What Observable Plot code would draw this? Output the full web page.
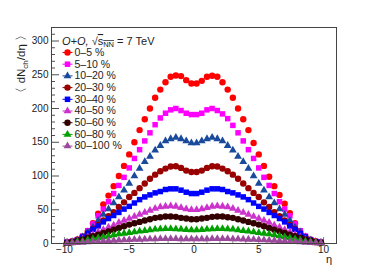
<!DOCTYPE html>
<html><head><meta charset="utf-8">
<script src="https://cdn.jsdelivr.net/npm/d3@7"></script>
<script src="https://cdn.jsdelivr.net/npm/@observablehq/plot@0.6"></script>
<style>body{margin:0;background:#fff;} svg{display:block;}</style>
</head><body><div id="chart"></div>
<script>
const eta = [-9.8,-9.4,-9.0,-8.6,-8.2,-7.8,-7.4,-7.0,-6.6,-6.2,-5.8,-5.4,-5.0,-4.6,-4.2,-3.8,-3.4,-3.0,-2.6,-2.2,-1.8,-1.4,-1.0,-0.6,-0.2,
             0.2,0.6,1.0,1.4,1.8,2.2,2.6,3.0,3.4,3.8,4.2,4.6,5.0,5.4,5.8,6.2,6.6,7.0,7.4,7.8,8.2,8.6,9.0,9.4,9.8];
const c0_5   = [2,3.5,6,10,18,30,44,58,71,85,100,115,132,150,168,184,200,216,228,239,247,249,248,242,237,
                237,241,247,248.5,247,239,228,216,200,184,168,149,132,115,99,85,72,59,45,30,18,9.5,6,3.5,2];
const c5_10  = [2,3,5.5,11,19,29,41,51,62,74,86,98,112,126,139,152,164,176,186,193,198,200,197,193,191,
                191,193,198,200,197,192,185,175,164,152,139,126,112,98,86,74,62,51,41,29,19,11,5.5,3,2];
const c10_20 = [1.5,2.5,5,9.5,17,24,34,43,51,60,69,79,89,100,111,121,129,138,145,152,155,157,155,152,149,
                149,152,155,157,155,152,145,138,129,121,111,100,89,79,69,60,51,43,34,24,17,9.5,5,2.5,1.5];
const c20_30 = [1.5,2.5,5,9,14.5,21.5,27.5,34,40.5,46.5,54,61,69,75,82,89,96,102,107,111,114,114.5,112,108,106,
                106,108,112,114.5,114,111,107,102,96,89,82,75,69,61,54,46.5,40.5,34,27.5,21.5,14.5,9,5,2.5,1.5];
const c30_40 = [1.5,2.5,5,9.5,15,21,26,32,37,41.5,46,51,55,60,65,69,72,75,77,80,81,81,79,76,74,
                74,76,79,81,81,80,77,75,72,69,65,60,55,51,46,41.5,37,32,26,21,15,9.5,5,2.5,1.5];
const c40_50 = [1,2,4,6.5,9.5,13,17,20.5,24,27,31,34,37,40,43,46,49,52,54,55,55.5,55,53,51,50,
                50,51,53,55,55.5,55,54,52,49,46,43,40,37,34,31,27,24,20.5,17,13,9.5,6.5,4,2,1];
const c50_60 = [1,2,4,6,8.5,11,13,15.5,18,20.5,23,25.5,28,30,32,34,36,38,39,40,40,39.5,38,37,36,
                36,37,38,39.5,40,40,39,38,36,34,32,30,28,25.5,23,20.5,18,15.5,13,11,8.5,6,4,2,1];
const c60_80 = [0.5,1.5,2.5,3.5,5,6.5,8,9.5,11,12.5,14,15,16,17,18,19,20,21,21.5,22,22,21.5,21,20.5,20,
                20,20.5,21,21.5,22,22,21.5,21,20,19,18,17,16,15,14,12.5,11,9.5,8,6.5,5,3.5,2.5,1.5,0.5];
const c80_100= [0.5,0.8,1.2,1.6,2.1,2.6,3.1,3.6,4,4.4,4.8,5.2,5.5,5.8,6.1,6.4,6.6,6.8,7,7,7,7,6.8,6.5,6.5,
                6.5,6.5,6.8,7,7,7,7,6.8,6.6,6.4,6.1,5.8,5.5,5.2,4.8,4.4,4,3.6,3.1,2.6,2.1,1.6,1.2,0.8,0.5];

const seriesLabels  = ["0–5 %","5–10 %","10–20 %","20–30 %","30–40 %","40–50 %","50–60 %","60–80 %","80–100 %"];
const seriesValues  = [c0_5,c5_10,c10_20,c20_30,c30_40,c40_50,c50_60,c60_80,c80_100];
const seriesColors  = ["#ff0000","#ff00ff","#1a4a9c","#990000","#0000ff","#cc33cc","#330000","#00a000","#9b4a9b"];
const seriesSymbols = ["circle","square","triangle","circle","square","triangle","circle","triangle","triangle"];

const xTicks = [-10,-5,0,5,10];
const yTicks = [0,50,100,150,200,250,300];

const W = 374, H = 270, mL = 51, mR = 38, mT = 27, mB = 27;
const fw = W - mL - mR, fh = H - mT - mB;

const rows = [];
seriesValues.forEach((vals, s) => vals.forEach((v, i) => rows.push({eta: eta[i], v, s})));

const hline = {draw(ctx, size) { ctx.moveTo(-5, 0); ctx.lineTo(5, 0); }};
const rFor = sym => sym === "circle" ? 3.2 : sym === "square" ? 3.1 : 2.9;

const marks = [];
marks.push(Plot.ruleY(d3.range(0, 321, 10).filter(d => d % 50 !== 0), {y: d => d, insetRight: fw - 4, stroke: "#222", strokeWidth: 0.8}));
marks.push(Plot.ruleY(yTicks, {y: d => d, insetRight: fw - 8, stroke: "#222", strokeWidth: 0.8}));
marks.push(Plot.ruleX(d3.range(-11, 12, 1).filter(d => d % 5 !== 0), {x: d => d, insetTop: fh - 3, stroke: "#666", strokeWidth: 0.8}));
marks.push(Plot.ruleX(xTicks, {x: d => d, insetTop: fh - 6, stroke: "#666", strokeWidth: 0.8}));
seriesValues.forEach((_, s) => {
  marks.push(Plot.dot(rows.filter(d => d.s === s), {
    x: "eta", y: "v", symbol: seriesSymbols[s], r: rFor(seriesSymbols[s]),
    fill: seriesColors[s], stroke: "none"
  }));
});
seriesLabels.forEach((lab, i) => {
  const dy = 25 + i * 11.7;
  marks.push(Plot.dot([0], {frameAnchor: "top-left", dx: 16, dy, symbol: hline, r: 3, fill: "none", stroke: seriesColors[i], strokeWidth: 1}));
  marks.push(Plot.dot([0], {frameAnchor: "top-left", dx: 16, dy, symbol: seriesSymbols[i], r: rFor(seriesSymbols[i]), fill: seriesColors[i], stroke: "none"}));
  marks.push(Plot.text([lab], {frameAnchor: "top-left", dx: 23, dy, text: d => d, textAnchor: "start", lineAnchor: "middle", fontSize: 10.5, fill: "#222"}));
});
marks.push(Plot.frame({stroke: "#444", strokeWidth: 1}));
marks.push(Plot.axisY({ticks: yTicks, tickSize: 0, tickPadding: 3, label: null, fontSize: 10}));
marks.push(Plot.axisX({ticks: xTicks, tickSize: 0, tickPadding: 2, label: null, fontSize: 10, tickFormat: d => d < 0 ? "−" + Math.abs(d) : String(d)}));

const svg = Plot.plot({
  width: W, height: H,
  marginLeft: mL, marginRight: mR, marginTop: mT, marginBottom: mB,
  style: {fontFamily: "'Liberation Sans', Arial, sans-serif", color: "#222", background: "#fff"},
  x: {domain: [-11, 11]},
  y: {domain: [0, 320]},
  marks
});
document.getElementById("chart").appendChild(svg);

const s = d3.select(svg);
const font = "'Liberation Sans', Arial, sans-serif";
s.append("text").attr("x", W - mR - 4).attr("y", 263).attr("text-anchor", "end")
  .attr("font-family", font).attr("font-size", 11).attr("fill", "#222").text("η");
const yl = s.append("text").attr("transform", `translate(25,${mT + 2}) rotate(-90)`).attr("text-anchor", "end")
  .attr("font-family", font).attr("font-size", 11.5).attr("fill", "#222");
yl.append("tspan").text("〈 dN");
yl.append("tspan").attr("font-size", 8).attr("dy", 2.5).text("ch");
yl.append("tspan").attr("dy", -2.5).text("/dη 〉");
const hd = s.append("text").attr("x", mL + 11).attr("y", 45).attr("text-anchor", "start")
  .attr("font-family", font).attr("font-size", 11).attr("fill", "#222");
hd.append("tspan").attr("font-style", "italic").text("O+O, ");
hd.append("tspan").text("√");
hd.append("tspan").attr("text-decoration", "overline").text("s");
hd.append("tspan").attr("font-size", 7.5).attr("dy", 2).attr("text-decoration", "overline").text("NN");
hd.append("tspan").attr("dy", -2).text(" = 7 TeV");
</script>
</body></html>
